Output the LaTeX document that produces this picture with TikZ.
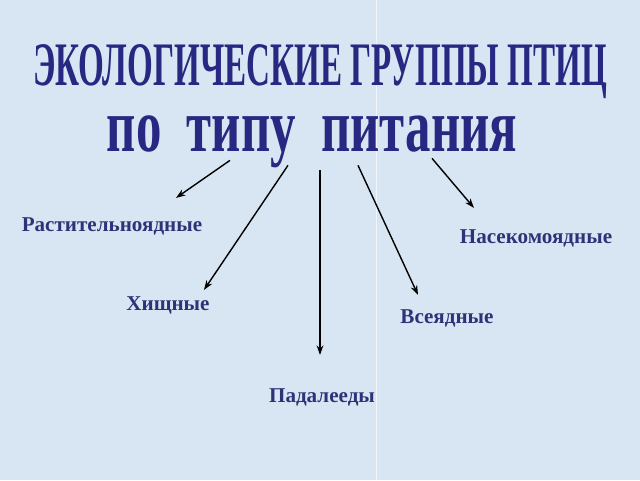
\documentclass[tikz,border=0pt]{standalone}
\usepackage{fontspec}
\setmainfont{Liberation Serif}
\usepackage{xcolor}
\usetikzlibrary{arrows.meta, positioning, calc}
\definecolor{slidebg}{RGB}{216,230,243}
\definecolor{titleblue}{RGB}{40,40,130}
\definecolor{groupblue}{RGB}{48,50,120}
\tikzset{
  titletext/.style={
    font=\bfseries\fontsize{44}{44}\selectfont, text=titleblue,
    anchor=base, inner sep=0pt, xscale=0.535
  },
  subtitletext/.style={
    font=\bfseries\fontsize{54}{54}\selectfont, text=titleblue,
    anchor=base, inner sep=0pt, xscale=0.67
  },
  grouplabel/.style={
    font=\bfseries\fontsize{15}{18}\selectfont, text=groupblue,
    inner sep=1pt
  },
  feedarrow/.style={
    -{Stealth[length=2.4mm, width=1.7mm]}, line width=1pt, black
  },
}

\begin{document}
\begin{tikzpicture}[x=0.025cm, y=-0.025cm]
  % Background
  \fill[slidebg] (0,0) rectangle (640,480);
  \draw[white!60!slidebg, line width=0.5pt] (376,0) -- (376,480);

  % === Title ===
  \node[titletext] (title) at (320,85) {ЭКОЛОГИЧЕСКИЕ ГРУППЫ ПТИЦ};
  \node[subtitletext] (subtitle) at (312,151) {по\ \ типу\ \ питания};

  % === Groups ===
  \node[grouplabel] (herb) at (112,226) {Растительноядные};
  \node[grouplabel] (insect) at (536,238) {Насекомоядные};
  \node[grouplabel] (pred) at (168,305) {Хищные};
  \node[grouplabel] (omni) at (447,318) {Всеядные};
  \node[grouplabel] (carr) at (322,397) {Падалееды};

  % === Arrow ends ===
  \coordinate (s1) at (230,160);
  \coordinate (s2) at (288,165);
  \coordinate (s3) at (320,170);
  \coordinate (s4) at (358,165);
  \coordinate (s5) at (432,158);
  \coordinate (e1) at ([xshift=64*0.025cm, yshift=18*0.025cm]herb.north);
  \coordinate (e2) at ([xshift=36*0.025cm, yshift=5*0.025cm]pred.north);
  \coordinate (e3) at ([xshift=-2*0.025cm, yshift=32*0.025cm]carr.north);
  \coordinate (e4) at ([xshift=-29*0.025cm, yshift=13*0.025cm]omni.north);
  \coordinate (e5) at ([xshift=-62*0.025cm, yshift=20*0.025cm]insect.north);

  % === Arrows ===
  \draw[feedarrow] (s1) -- (e1);
  \draw[feedarrow] (s2) -- (e2);
  \draw[feedarrow] (s3) -- (e3);
  \draw[feedarrow] (s4) -- (e4);
  \draw[feedarrow] (s5) -- (e5);
\end{tikzpicture}
\end{document}
